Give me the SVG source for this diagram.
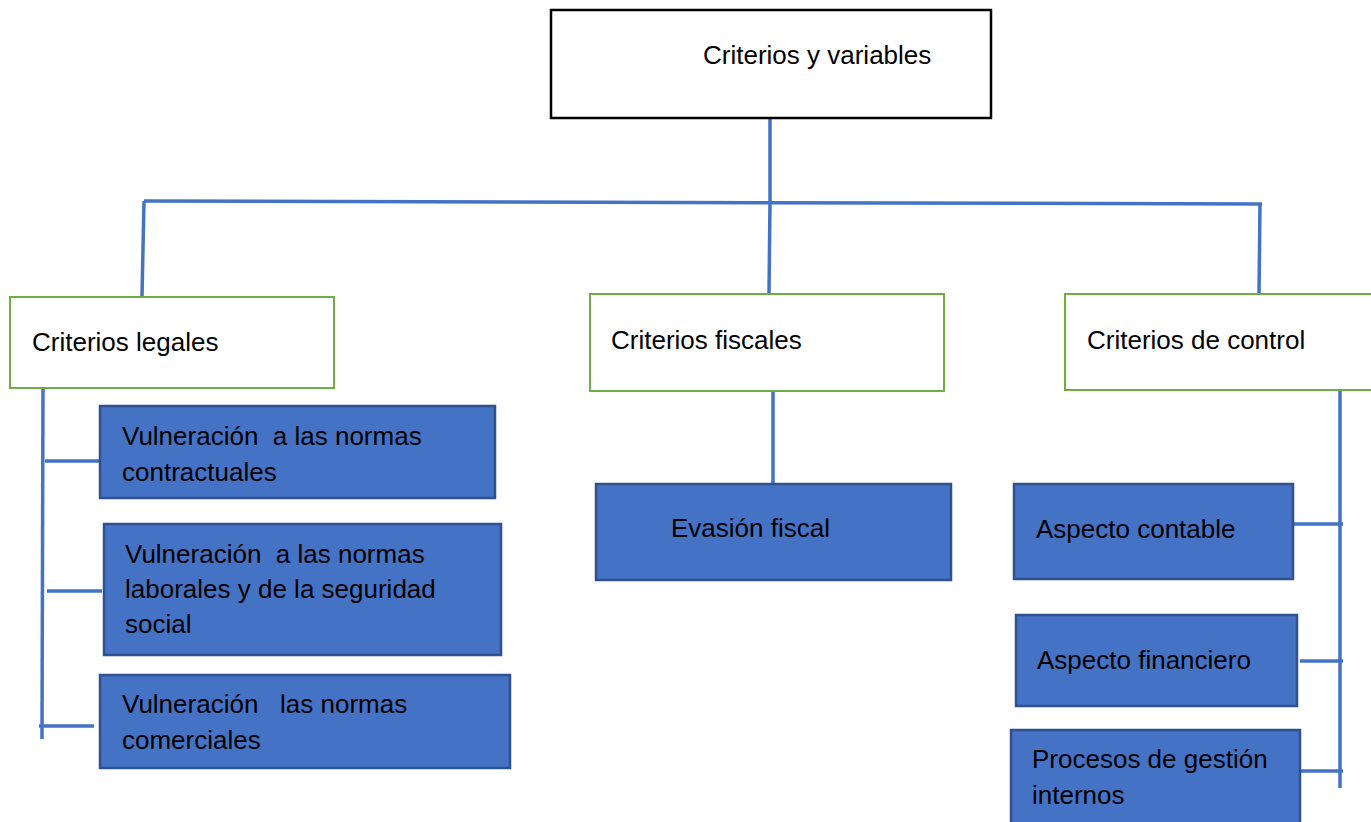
<svg xmlns="http://www.w3.org/2000/svg" width="1371" height="822" viewBox="0 0 1371 822">
<style>
text{font-family:"Liberation Sans",Arial,sans-serif;font-size:26px;fill:#000;white-space:pre}
.top{fill:#fff;stroke:#000;stroke-width:2.5}
.cat{fill:#fff;stroke:#70AD47;stroke-width:2}
.leaf{fill:#4472C4;stroke:#2F528F;stroke-width:2.5}
.ln{stroke:#4472C4;stroke-width:3.5;fill:none}
</style>
<rect width="1371" height="822" fill="#fff"/>
<g id="connectors">
<line class="ln" x1="770" y1="118" x2="770" y2="202"/>
<line class="ln" x1="144" y1="201" x2="1262" y2="204"/>
<line class="ln" x1="144" y1="201" x2="142" y2="296"/>
<line class="ln" x1="770" y1="203" x2="769" y2="294"/>
<line class="ln" x1="1260" y1="204" x2="1259" y2="294"/>
<line class="ln" x1="43" y1="382" x2="42" y2="739"/>
<line class="ln" x1="45" y1="461" x2="100" y2="461"/>
<line class="ln" x1="47" y1="591" x2="102" y2="591"/>
<line class="ln" x1="39" y1="726" x2="94" y2="726"/>
<line class="ln" x1="773" y1="391" x2="773" y2="484"/>
<line class="ln" x1="1340" y1="387" x2="1340" y2="788"/>
<line class="ln" x1="1293" y1="524" x2="1343" y2="524"/>
<line class="ln" x1="1300" y1="661" x2="1343" y2="661"/>
<line class="ln" x1="1300" y1="771" x2="1343" y2="771"/>
</g>
<g id="root">
<rect class="top" x="551" y="10" width="440" height="108"/>
<text x="703" y="64">Criterios y variables</text>
</g>
<g id="legales">
<rect class="cat" x="10" y="297" width="324" height="91"/>
<text x="32" y="351">Criterios legales</text>
</g>
<g id="fiscales">
<rect class="cat" x="590" y="294" width="354" height="97"/>
<text x="611" y="349">Criterios fiscales</text>
</g>
<g id="control">
<rect class="cat" x="1065" y="294" width="310" height="96"/>
<text x="1087" y="349">Criterios de control</text>
</g>
<g id="contractuales">
<rect class="leaf" x="100" y="406" width="395" height="92"/>
<text x="122" y="445" xml:space="preserve">Vulneración  a las normas</text>
<text x="122" y="481">contractuales</text>
</g>
<g id="laborales">
<rect class="leaf" x="104" y="524" width="397" height="131"/>
<text x="125" y="563" xml:space="preserve">Vulneración  a las normas</text>
<text x="125" y="598">laborales y de la seguridad</text>
<text x="125" y="633">social</text>
</g>
<g id="comerciales">
<rect class="leaf" x="100" y="675" width="410" height="93"/>
<text x="122" y="713" xml:space="preserve">Vulneración   las normas</text>
<text x="122" y="749">comerciales</text>
</g>
<g id="evasion">
<rect class="leaf" x="596" y="484" width="355" height="96"/>
<text x="671" y="537">Evasión fiscal</text>
</g>
<g id="contable">
<rect class="leaf" x="1014" y="484" width="279" height="95"/>
<text x="1036" y="538">Aspecto contable</text>
</g>
<g id="financiero">
<rect class="leaf" x="1016" y="615" width="281" height="91"/>
<text x="1037" y="669">Aspecto financiero</text>
</g>
<g id="procesos">
<rect class="leaf" x="1011" y="730" width="289" height="100"/>
<text x="1032" y="768">Procesos de gestión</text>
<text x="1032" y="804">internos</text>
</g>
</svg>
